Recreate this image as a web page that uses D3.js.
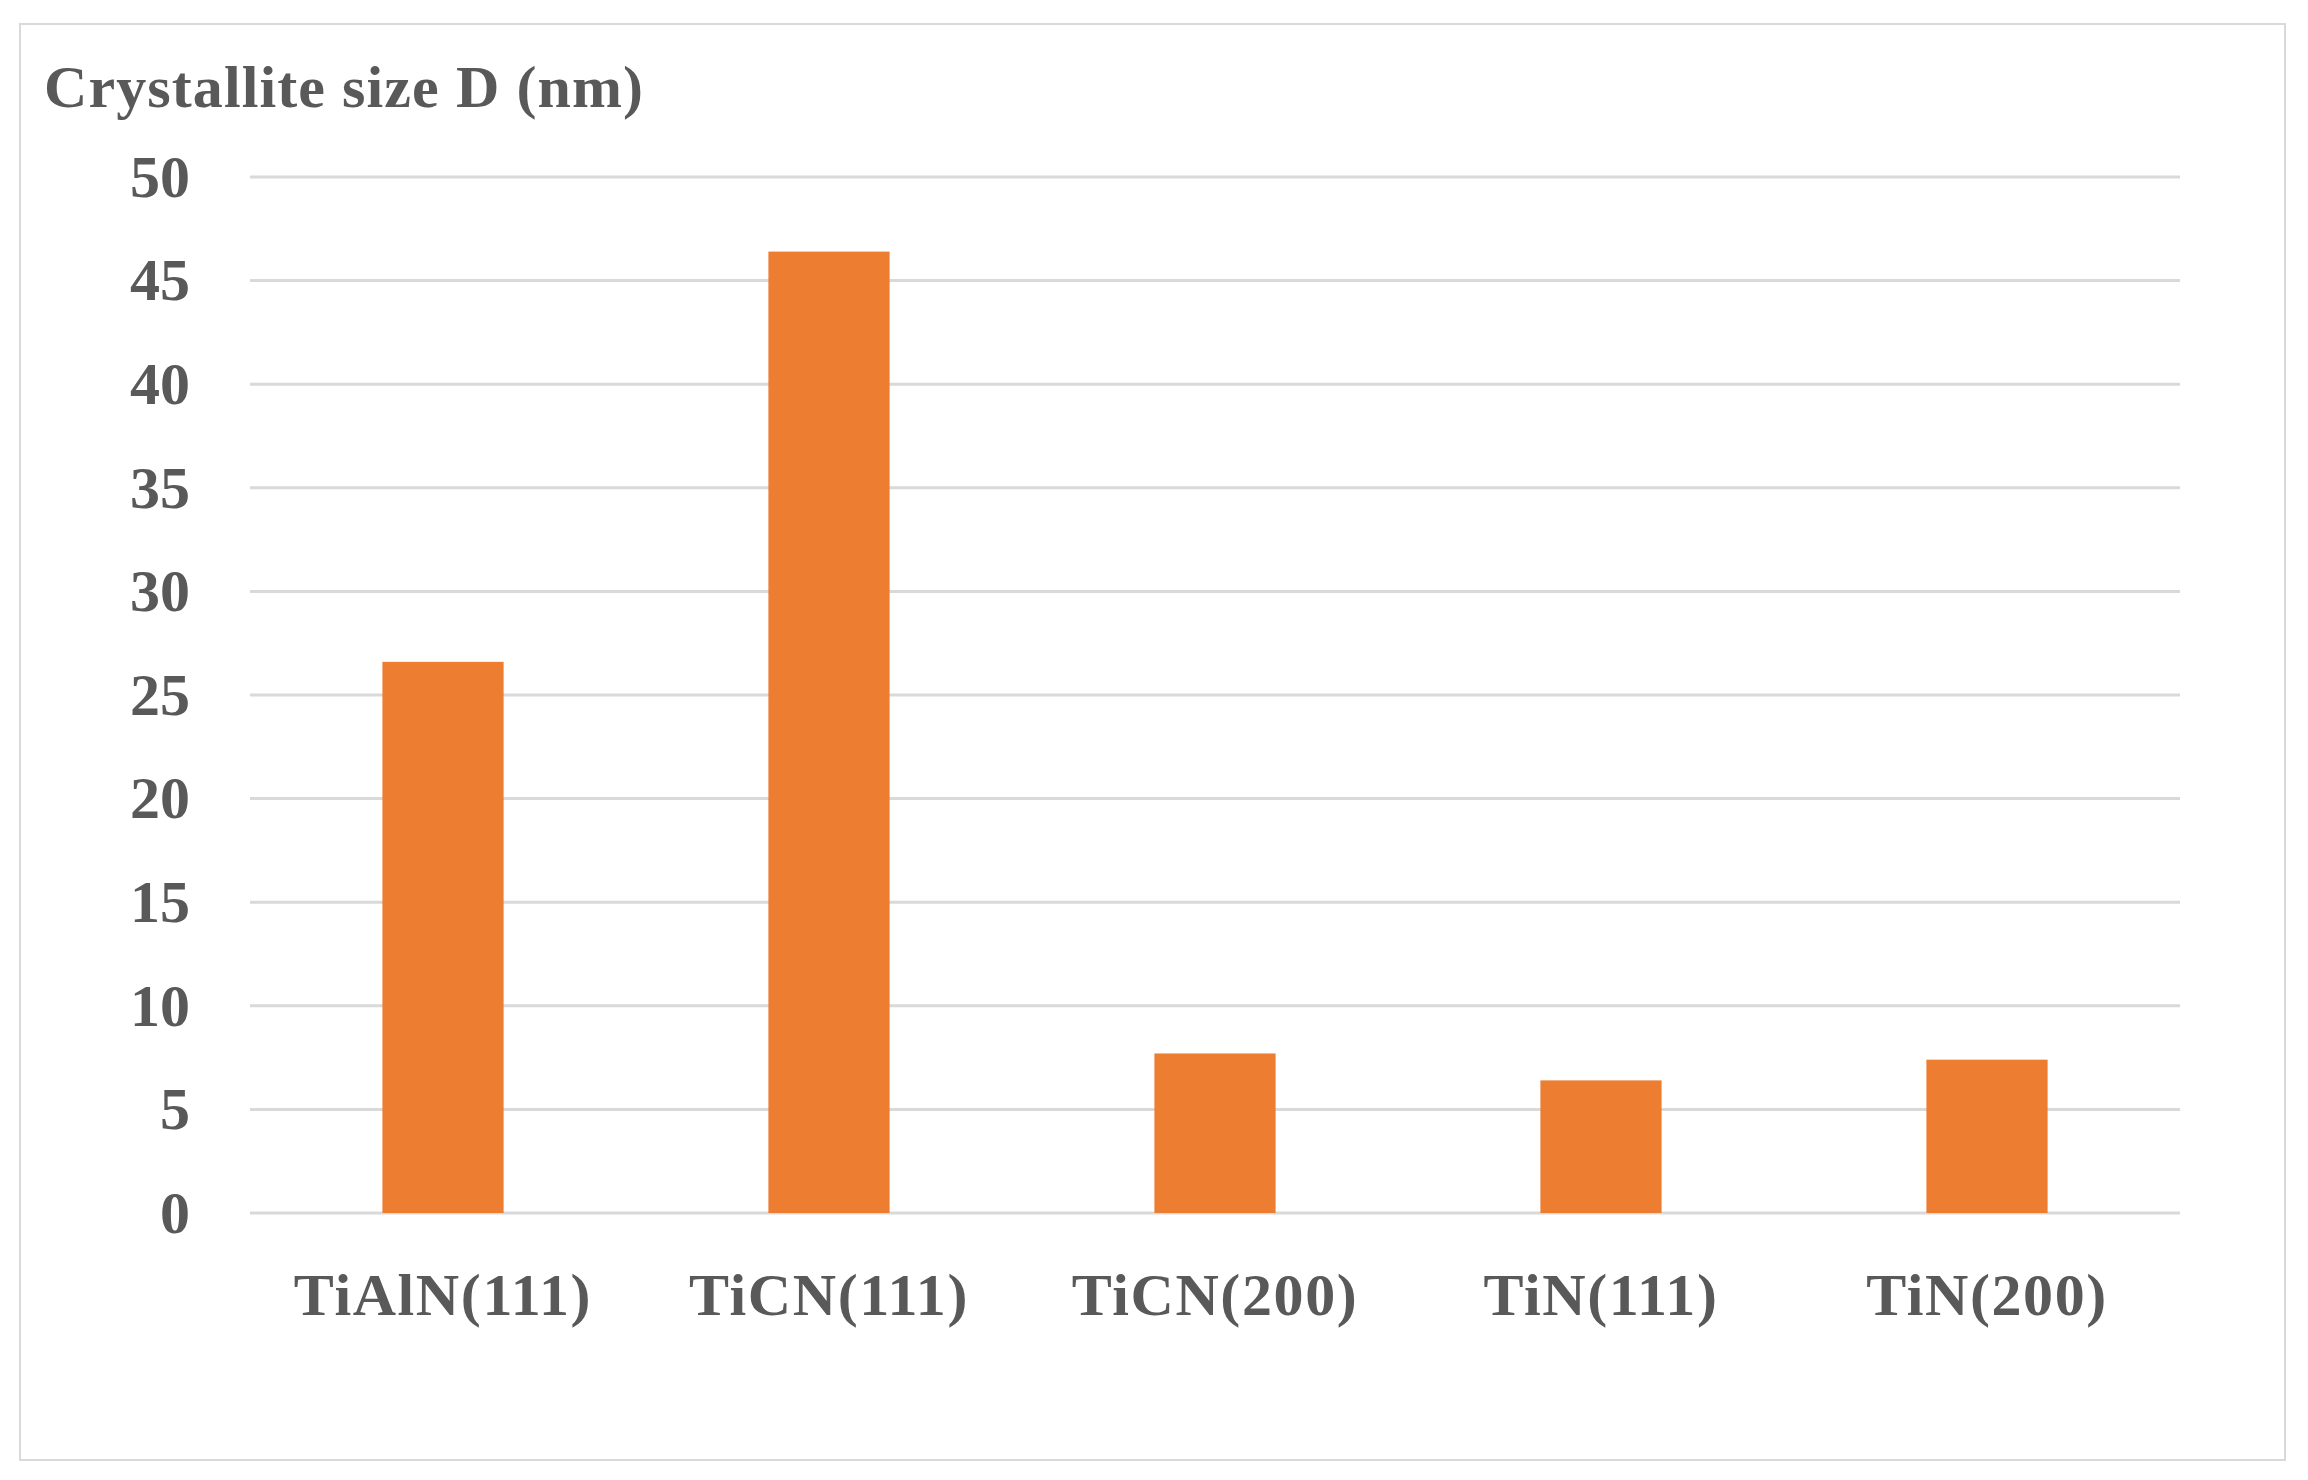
<!DOCTYPE html>
<html lang="en">

<head>
    <meta charset="utf-8">
    <script src="https://d3js.org/d3.v7.min.js"></script>
    <style>
        body { margin: 0; background: #fff; }

        .axis text {
            fill: #595959;
            font-family: "Liberation Serif", serif;
            font-weight: bold;
            font-size: 60px;
        }

        .axis--x text {
            letter-spacing: 1.6px;
        }

        .axis path, .axis .tick line {
            display: none;
        }

        .grid line {
            stroke: #d9d9d9;
            stroke-width: 3px;
        }

        .chart-title {
            fill: #595959;
            font-family: "Liberation Serif", serif;
            font-weight: bold;
            font-size: 60px;
            letter-spacing: 1.1px;
        }
    </style>
</head>

<body>
    <div id="my_dataviz"></div>

    <script>
        var categories = ["TiAlN(111)", "TiCN(111)", "TiCN(200)", "TiN(111)", "TiN(200)"];
        var sizes = [26.6, 46.4, 7.7, 6.4, 7.4];
        var yTicks = [0, 5, 10, 15, 20, 25, 30, 35, 40, 45, 50];

        var margin = { top: 177, right: 128, bottom: 267, left: 250 },
            width = 2308 - margin.left - margin.right,
            height = 1480 - margin.top - margin.bottom;

        var svg = d3.select("#my_dataviz")
            .append("svg")
            .attr("width", 2308)
            .attr("height", 1480);

        // outer chart frame
        svg.append("rect")
            .attr("x", 20)
            .attr("y", 24)
            .attr("width", 2265)
            .attr("height", 1436)
            .attr("fill", "none")
            .attr("stroke", "#d9d9d9")
            .attr("stroke-width", 2);

        svg.append("text")
            .attr("class", "chart-title")
            .attr("x", 44)
            .attr("y", 107)
            .text("Crystallite size D (nm)");

        var g = svg.append("g")
            .attr("transform", "translate(" + margin.left + "," + margin.top + ")");

        var x = d3.scaleBand()
            .domain(categories)
            .range([0, width])
            .paddingInner(0.686)
            .paddingOuter(0.343);

        var y = d3.scaleLinear()
            .domain([0, 50])
            .range([height, 0]);

        g.append("g")
            .attr("class", "grid")
            .selectAll("line")
            .data(yTicks)
            .enter().append("line")
            .attr("x1", 0)
            .attr("x2", width)
            .attr("y1", function(d) { return y(d); })
            .attr("y2", function(d) { return y(d); });

        g.append("g")
            .attr("class", "axis axis--y")
            .call(d3.axisLeft(y).tickValues(yTicks).tickSize(0).tickPadding(60));

        g.append("g")
            .attr("class", "axis axis--x")
            .attr("transform", "translate(0," + height + ")")
            .call(d3.axisBottom(x).tickSize(0))
            .selectAll(".tick text")
            .attr("dy", 0)
            .attr("y", 102);

        g.append("g")
            .selectAll("rect")
            .data(sizes)
            .enter().append("rect")
            .attr("x", function(d, i) { return x(categories[i]); })
            .attr("y", function(d) { return y(d); })
            .attr("width", x.bandwidth())
            .attr("height", function(d) { return height - y(d); })
            .attr("fill", "#ed7d31");
    </script>
</body>

</html>
